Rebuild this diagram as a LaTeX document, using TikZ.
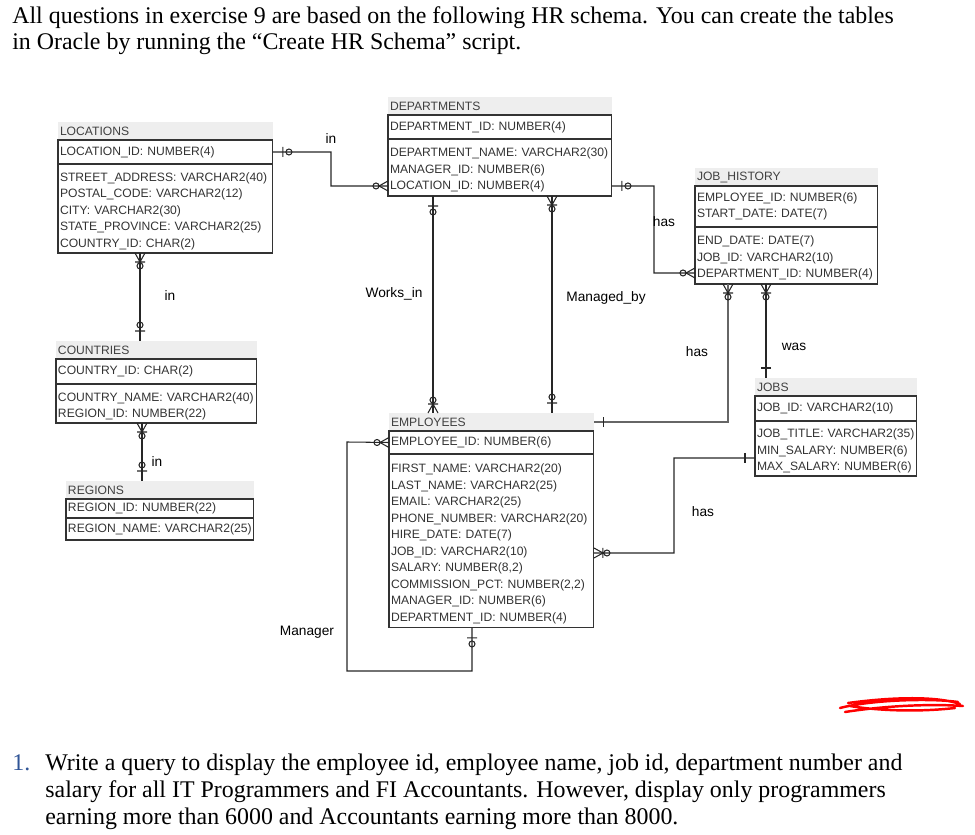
\documentclass[tikz,border=0pt]{standalone}
\usepackage{fontspec}
\setmainfont{Liberation Serif}
\newfontfamily\erfont{Liberation Sans}
\usepackage{tikz}
\usetikzlibrary{positioning, calc}

\definecolor{hdrgray}{HTML}{EEEEEE}
\definecolor{numblue}{HTML}{2F5496}

\tikzset{
  ermark/.style={draw=black!85, line width=0.6pt},
  one/.pic={\draw[ermark] (-10,-5) -- (-10,5);},
  oneopt/.pic={\draw[ermark] (-10,-5) -- (-10,5) (-16,0) circle[radius=3];},
  many/.pic={\draw[ermark] (0,-5) -- (-9,0) -- (0,5) (-12,0) circle[radius=3];},
  manybar/.pic={\draw[ermark] (0,-5) -- (-9,0) -- (0,5) (-9,-5) -- (-9,5) (-13,0) circle[radius=3];},
}

\begin{document}
\begin{tikzpicture}[x=0.02cm, y=-0.02cm,
    tblhead/.style={anchor=north west, fill=hdrgray, text=black!75, outer sep=0pt, inner xsep=0.04cm, inner ysep=0pt, align=left, minimum height=0.36cm, font=\erfont\fontsize{6.9}{9.4}\selectfont},
    tblbox/.style={anchor=north west, draw=black!80, line width=0.6pt, text=black!80, outer sep=0pt, inner xsep=0.04cm, inner ysep=0pt, align=left, font=\erfont\fontsize{6.9}{9.4}\selectfont},
    tblattr/.style={tblbox, text height=8.2pt},
    rel/.style={draw=black!85, line width=0.6pt},
    rellbl/.style={font=\erfont\fontsize{7.8}{9}\selectfont},
    prose/.style={anchor=base west, inner sep=0pt, font=\fontsize{13.6}{16}\selectfont}
  ]
  \useasboundingbox (0,0) rectangle (975,835);

  % Text
  \node[prose] (intro1) at (12,24) {All questions in exercise 9 are based on the following HR schema. You can create the tables};
  \node[prose] (intro2) at (12,50) {in Oracle by running the “Create HR Schema” script.};

  % Tabellen
  \node[tblhead, text width=4.22cm] (loc-h) at (58,122) {LOCATIONS};
  \node[tblbox, text width=4.22cm, minimum height=0.48cm] (loc-k) at (loc-h.south west) {LOCATION\_ID:~NUMBER(4)};
  \node[tblattr, text width=4.22cm, minimum height=1.78cm] (loc-a) at (loc-k.south west) {STREET\_ADDRESS:~VARCHAR2(40)\\POSTAL\_CODE:~VARCHAR2(12)\\CITY:~VARCHAR2(30)\\STATE\_PROVINCE:~VARCHAR2(25)\\COUNTRY\_ID:~CHAR(2)};

  \node[tblhead, text width=4.40cm] (dep-h) at (388,97) {DEPARTMENTS};
  \node[tblbox, text width=4.40cm, minimum height=0.48cm] (dep-k) at (dep-h.south west) {DEPARTMENT\_ID:~NUMBER(4)};
  \node[tblattr, text width=4.40cm, minimum height=1.14cm] (dep-a) at (dep-k.south west) {DEPARTMENT\_NAME:~VARCHAR2(30)\\MANAGER\_ID:~NUMBER(6)\\LOCATION\_ID:~NUMBER(4)};

  \node[tblhead, text width=3.58cm] (jh-h) at (695,168) {JOB\_HISTORY};
  \node[tblbox, text width=3.58cm, minimum height=0.82cm] (jh-k) at (jh-h.south west) {EMPLOYEE\_ID:~NUMBER(6)\\START\_DATE:~DATE(7)};
  \node[tblattr, text width=3.58cm, minimum height=1.14cm] (jh-a) at (jh-k.south west) {END\_DATE:~DATE(7)\\JOB\_ID:~VARCHAR2(10)\\DEPARTMENT\_ID:~NUMBER(4)};

  \node[tblhead, text width=3.94cm] (cou-h) at (56,341) {COUNTRIES};
  \node[tblbox, text width=3.94cm, minimum height=0.50cm] (cou-k) at (cou-h.south west) {COUNTRY\_ID:~CHAR(2)};
  \node[tblattr, text width=3.94cm, minimum height=0.78cm] (cou-a) at (cou-k.south west) {COUNTRY\_NAME:~VARCHAR2(40)\\REGION\_ID:~NUMBER(22)};

  \node[tblhead, text width=3.68cm] (reg-h) at (66,481) {REGIONS};
  \node[tblbox, text width=3.68cm, minimum height=0.38cm] (reg-k) at (reg-h.south west) {REGION\_ID:~NUMBER(22)};
  \node[tblbox, text width=3.68cm, minimum height=0.44cm] (reg-a) at (reg-k.south west) {REGION\_NAME:~VARCHAR2(25)};

  \node[tblhead, text width=4.02cm] (emp-h) at (389,413) {EMPLOYEES};
  \node[tblbox, text width=4.02cm, minimum height=0.46cm] (emp-k) at (emp-h.south west) {EMPLOYEE\_ID:~NUMBER(6)};
  \node[tblattr, text width=4.02cm, minimum height=3.48cm] (emp-a) at (emp-k.south west) {FIRST\_NAME:~VARCHAR2(20)\\LAST\_NAME:~VARCHAR2(25)\\EMAIL:~VARCHAR2(25)\\PHONE\_NUMBER:~VARCHAR2(20)\\HIRE\_DATE:~DATE(7)\\JOB\_ID:~VARCHAR2(10)\\SALARY:~NUMBER(8,2)\\COMMISSION\_PCT:~NUMBER(2,2)\\MANAGER\_ID:~NUMBER(6)\\DEPARTMENT\_ID:~NUMBER(4)};

  \node[tblhead, text width=3.16cm] (job-h) at (755,378) {JOBS};
  \node[tblbox, text width=3.16cm, minimum height=0.50cm] (job-k) at (job-h.south west) {JOB\_ID:~VARCHAR2(10)};
  \node[tblattr, text width=3.16cm, minimum height=1.10cm] (job-a) at (job-k.south west) {JOB\_TITLE:~VARCHAR2(35)\\MIN\_SALARY:~NUMBER(6)\\MAX\_SALARY:~NUMBER(6)};

  % Beziehungen
  \draw[rel] (loc-k.east) -- (331,152) |- ($(dep-a.south west)+(0,-10)$);
  \pic[rotate=180] at (loc-k.east) {oneopt};
  \pic at ($(dep-a.south west)+(0,-10)$) {many};

  \draw[rel] ($(loc-a.south west)+(82,0)$) -- ($(cou-h.north west)+(84,0)$);
  \pic[rotate=90] at ($(loc-a.south west)+(82,0)$) {manybar};
  \pic[rotate=-90] at ($(cou-h.north west)+(84,0)$) {oneopt};

  \draw[rel] ($(cou-a.south west)+(86,0)$) -- ($(reg-h.north west)+(76,0)$);
  \pic[rotate=90] at ($(cou-a.south west)+(86,0)$) {manybar};
  \pic[rotate=-90] at ($(reg-h.north west)+(76,0)$) {oneopt};

  \draw[rel] ($(dep-a.south west)+(45,0)$) -- ($(emp-h.north west)+(44,0)$);
  \pic[rotate=90] at ($(dep-a.south west)+(45,0)$) {oneopt};
  \pic[rotate=-90] at ($(emp-h.north west)+(44,0)$) {manybar};

  \draw[rel] ($(dep-a.south west)+(164,0)$) -- ($(emp-h.north west)+(163,0)$);
  \pic[rotate=90] at ($(dep-a.south west)+(164,0)$) {manybar};
  \pic[rotate=-90] at ($(emp-h.north west)+(163,0)$) {oneopt};

  \draw[rel] ($(dep-a.south east)+(0,-10)$) -- (654,186) |- ($(jh-a.south west)+(0,-11)$);
  \pic[rotate=180] at ($(dep-a.south east)+(0,-10)$) {oneopt};
  \pic at ($(jh-a.south west)+(0,-11)$) {many};

  \draw[rel, draw=black!60] ($(jh-a.south west)+(33,0)$) |- (emp-h.east);
  \pic[rotate=90] at ($(jh-a.south west)+(33,0)$) {manybar};
  \pic[rotate=180] at (emp-h.east) {one};

  \draw[rel] ($(jh-a.south west)+(71,0)$) -- ($(job-h.north west)+(11,0)$);
  \pic[rotate=90] at ($(jh-a.south west)+(71,0)$) {manybar};
  \pic[rotate=-90] at ($(job-h.north west)+(11,0)$) {one};

  \draw[rel] ($(job-a.north west)+(0,37)$) -- (674,458) |- ($(emp-a.north east)+(0,99)$);
  \pic at ($(job-a.north west)+(0,37)$) {one};
  \pic[rotate=180] at ($(emp-a.north east)+(0,99)$) {manybar};

  \draw[rel] (emp-k.west) -- (347,442) -- (347,671) -| ($(emp-a.south west)+(83,0)$);
  \pic at (emp-k.west) {many};
  \pic[rotate=90] at ($(emp-a.south west)+(83,0)$) {oneopt};

  % Beschriftungen
  \node[rellbl] (lbl-locdep) at (331,139) {in};
  \node[rellbl] (lbl-loccou) at (170,296) {in};
  \node[rellbl] (lbl-coureg) at (157,462) {in};
  \node[rellbl] (lbl-works) at (394,294) {Works\_in};
  \node[rellbl] (lbl-managed) at (606,298) {Managed\_by};
  \node[rellbl] (lbl-depjh) at (664,222) {has};
  \node[rellbl] (lbl-jhemp) at (697,352) {has};
  \node[rellbl] (lbl-was) at (794,347) {was};
  \node[rellbl] (lbl-jobemp) at (703,512) {has};
  \node[rellbl] (lbl-mgr) at (307,632) {Manager};

  % Gekritzel
  \draw[red, line width=1.4pt, line cap=round] (840,708) .. controls (870,700) and (930,698) .. (958,702)
    (845,712) .. controls (890,705) and (935,704) .. (963,706)
    (850,706) .. controls (880,711) and (920,712) .. (955,708)
    (848,703) .. controls (900,696) and (940,697) .. (960,704);

  % Aufgabe
  \node[prose, text=numblue] (qnum) at (12,770) {1.};
  \node[prose] (q1) at (45,770) {Write a query to display the employee id, employee name, job id, department number and};
  \node[prose] (q2) at (45,797) {salary for all IT Programmers and FI Accountants. However, display only programmers};
  \node[prose] (q3) at (45,824) {earning more than 6000 and Accountants earning more than 8000.};
\end{tikzpicture}
\end{document}
